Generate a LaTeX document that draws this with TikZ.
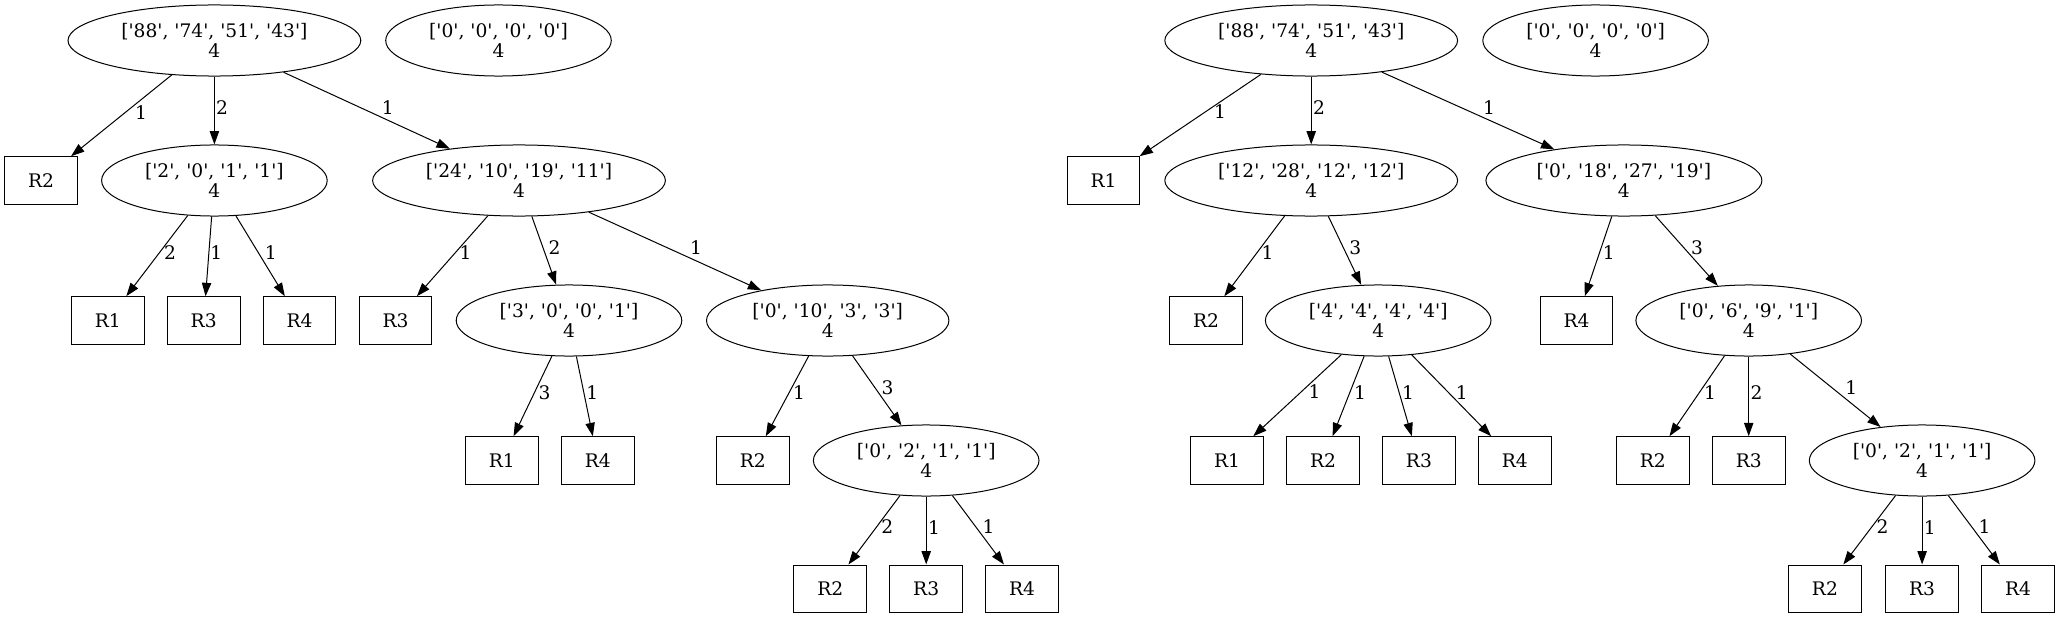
\documentclass[tikz,border=0pt]{standalone}
\usepackage{fontspec}
\setmainfont{DejaVu Serif}[Ligatures=TeXOff]
\usetikzlibrary{shapes.geometric,arrows.meta}

\begin{document}
\begin{tikzpicture}[x=0.75pt, y=-0.75pt,
    every node/.style={font=\fontsize{14}{14.5}\selectfont},
    vec/.style={ellipse, draw, line width=0.75pt, align=center, inner xsep=7.8pt, inner ysep=0pt, minimum height=53.3pt},
    leaf/.style={rectangle, draw, line width=0.75pt, minimum width=54.5pt, minimum height=35.7pt, inner sep=0pt},
    link/.style={-{Triangle[length=10pt,width=7pt]}, line width=0.75pt},
    lbl/.style={right=#1, inner sep=1pt, yshift=2.5pt},
    lbl/.default=2pt]
            \useasboundingbox (0,0) rectangle (2060,617);
            \node[vec] (a) at (214.4,40.5) {['88', '74', '51', '43']\\4};
            \node[vec] (b) at (498.5,40.5) {['0', '0', '0', '0']\\4};
            \node[leaf] (a1) at (41,180.5) {R2};
            \node[vec] (c) at (214.4,180.5) {['2', '0', '1', '1']\\4};
            \node[vec] (d) at (519,180.5) {['24', '10', '19', '11']\\4};
            \node[leaf] (c1) at (107.8,320.5) {R1};
            \node[leaf] (c2) at (203.7,320.5) {R3};
            \node[leaf] (c3) at (299.6,320.5) {R4};
            \node[leaf] (d1) at (395.5,320.5) {R3};
            \node[vec] (e) at (569,320.5) {['3', '0', '0', '1']\\4};
            \node[vec] (f) at (827.7,320.5) {['0', '10', '3', '3']\\4};
            \node[leaf] (e1) at (501.9,460.5) {R1};
            \node[leaf] (e2) at (597.8,460.5) {R4};
            \node[leaf] (f1) at (752.8,460.5) {R2};
            \node[vec] (g) at (926.2,460.5) {['0', '2', '1', '1']\\4};
            \node[leaf] (g1) at (830.3,588.8) {R2};
            \node[leaf] (g2) at (926.2,588.8) {R3};
            \node[leaf] (g3) at (1022.1,588.8) {R4};
            \draw[link] (a) -- node[lbl=9pt] {1} (a1);
            \draw[link] (a) -- node[lbl=0pt] {2} (c);
            \draw[link] (a) -- node[lbl=10pt] {1} (d);
            \draw[link] (c) -- node[lbl=4pt] {2} (c1);
            \draw[link] (c) -- node[lbl=0pt] {1} (c2);
            \draw[link] (c) -- node[lbl] {1} (c3);
            \draw[link] (d) -- node[lbl=4pt] {1} (d1);
            \draw[link] (d) -- node[lbl] {2} (e);
            \draw[link] (d) -- node[lbl=10pt] {1} (f);
            \draw[link] (e) -- node[lbl=3pt] {3} (e1);
            \draw[link] (e) -- node[lbl=0pt] {1} (e2);
            \draw[link] (f) -- node[lbl=3pt] {1} (f1);
            \draw[link] (f) -- node[lbl] {3} (g);
            \draw[link] (g) -- node[lbl=4pt] {2} (g1);
            \draw[link] (g) -- node[lbl=0pt] {1} (g2);
            \draw[link] (g) -- node[lbl] {1} (g3);
            \node[vec] (h) at (1311.2,40.5) {['88', '74', '51', '43']\\4};
            \node[vec] (i) at (1595.6,40.5) {['0', '0', '0', '0']\\4};
            \node[leaf] (h1) at (1103.6,180.5) {R1};
            \node[vec] (j) at (1311.2,180.5) {['12', '28', '12', '12']\\4};
            \node[vec] (k) at (1623.9,180.5) {['0', '18', '27', '19']\\4};
            \node[leaf] (j1) at (1206.1,320.5) {R2};
            \node[vec] (l) at (1378.2,320.5) {['4', '4', '4', '4']\\4};
            \node[leaf] (k1) at (1576.6,320.5) {R4};
            \node[vec] (m) at (1748.7,320.5) {['0', '6', '9', '1']\\4};
            \node[leaf] (l1) at (1227.1,460.5) {R1};
            \node[leaf] (l2) at (1323,460.5) {R2};
            \node[leaf] (l3) at (1418.9,460.5) {R3};
            \node[leaf] (l4) at (1514.8,460.5) {R4};
            \node[leaf] (m1) at (1652.8,460.5) {R2};
            \node[leaf] (m2) at (1748.7,460.5) {R3};
            \node[vec] (n) at (1922.1,460.5) {['0', '2', '1', '1']\\4};
            \node[leaf] (n1) at (1824.9,588.8) {R2};
            \node[leaf] (n2) at (1922.1,588.8) {R3};
            \node[leaf] (n3) at (2018,588.8) {R4};
            \draw[link] (h) -- node[lbl=9pt] {1} (h1);
            \draw[link] (h) -- node[lbl=0pt] {2} (j);
            \draw[link] (h) -- node[lbl=10pt] {1} (k);
            \draw[link] (j) -- node[lbl=4pt] {1} (j1);
            \draw[link] (j) -- node[lbl] {3} (l);
            \draw[link] (k) -- node[lbl=2pt] {1} (k1);
            \draw[link] (k) -- node[lbl] {3} (m);
            \draw[link] (l) -- node[lbl=7pt] {1} (l1);
            \draw[link] (l) -- node[lbl=3pt] {1} (l2);
            \draw[link] (l) -- node[lbl=0pt] {1} (l3);
            \draw[link] (l) -- node[lbl] {1} (l4);
            \draw[link] (m) -- node[lbl=4pt] {1} (m1);
            \draw[link] (m) -- node[lbl=0pt] {2} (m2);
            \draw[link] (m) -- node[lbl=6pt] {1} (n);
            \draw[link] (n) -- node[lbl=4pt] {2} (n1);
            \draw[link] (n) -- node[lbl=0pt] {1} (n2);
            \draw[link] (n) -- node[lbl] {1} (n3);
        \end{tikzpicture}
\end{document}
